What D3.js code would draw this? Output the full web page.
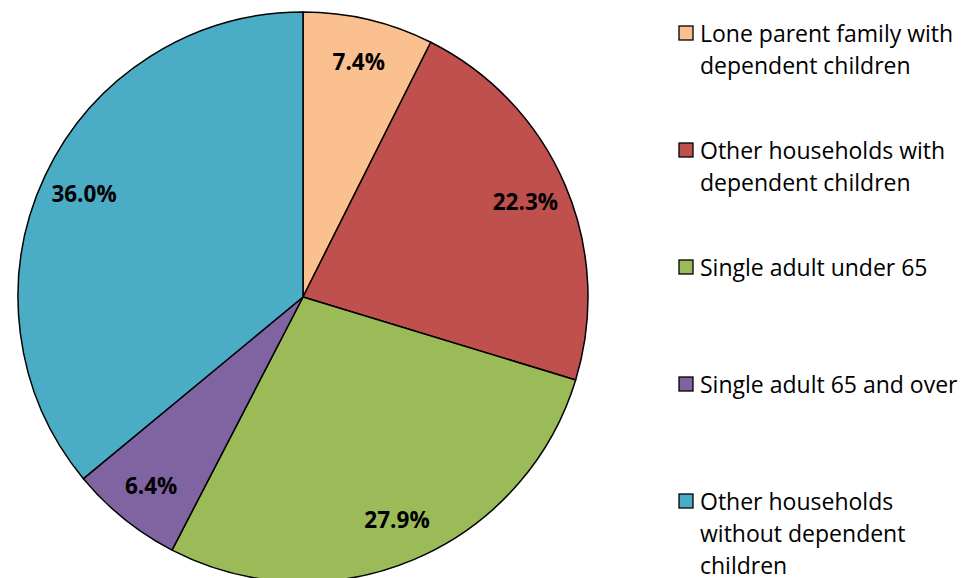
<!DOCTYPE html>
<html>
<head>
<meta charset="utf-8">
<script src="https://cdn.jsdelivr.net/npm/d3@7"></script>
<style>
html,body{margin:0;padding:0;background:#fff;}
svg{display:block;}
</style>
</head>
<body>
<svg id="chart" width="961" height="578"></svg>
<script>
const categories = [
  ["Lone parent family with", "dependent children"],
  ["Other households with", "dependent children"],
  ["Single adult under 65"],
  ["Single adult 65 and over"],
  ["Other households", "without dependent", "children"]
];
const values = [7.4, 22.3, 27.9, 6.4, 36.0];
const labels = ["7.4%", "22.3%", "27.9%", "6.4%", "36.0%"];
const colors = ["#FAC090", "#C0504D", "#9BBB59", "#8064A2", "#4BACC6"];

const svg = d3.select("#chart");
const cx = 303, cy = 297, r = 285;
const font = "'Open Sans', Lato, sans-serif";

const data = values.map((v, i) => ({v, i}));
const pie = d3.pie().value(d => d.v).sort(null);
const arcs = pie(data);
const arc = d3.arc().innerRadius(0).outerRadius(r);
const labelArc = d3.arc().innerRadius(242).outerRadius(242);

const g = svg.append("g").attr("transform", `translate(${cx},${cy})`);
g.selectAll("path").data(arcs).join("path")
  .attr("d", arc)
  .attr("fill", d => colors[d.data.i])
  .attr("stroke", "#000")
  .attr("stroke-width", 1.5)
  .attr("stroke-linejoin", "round");

g.selectAll("text").data(arcs).join("text")
  .attr("transform", d => `translate(${labelArc.centroid(d)})`)
  .attr("text-anchor", "middle")
  .attr("dominant-baseline", "central")
  .attr("font-family", font)
  .attr("font-weight", "bold")
  .attr("font-size", 22.5)
  .attr("fill", "#000")
  .text(d => labels[d.data.i]);

const legendY = d3.scalePoint().domain(d3.range(categories.length)).range([33, 501]);
const lg = svg.append("g");
categories.forEach((lines, i) => {
  const y = legendY(i);
  lg.append("rect")
    .attr("x", 679).attr("y", y - 7)
    .attr("width", 14).attr("height", 14)
    .attr("fill", colors[i]).attr("stroke", "#000").attr("stroke-width", 1.3);
  const t = lg.append("text")
    .attr("font-family", font)
    .attr("font-size", 23)
    .attr("fill", "#000");
  lines.forEach((ln, j) => {
    t.append("tspan").attr("x", 700).attr("y", y + j * 32)
      .attr("dominant-baseline", "central").text(ln);
  });
});
</script>
</body>
</html>
